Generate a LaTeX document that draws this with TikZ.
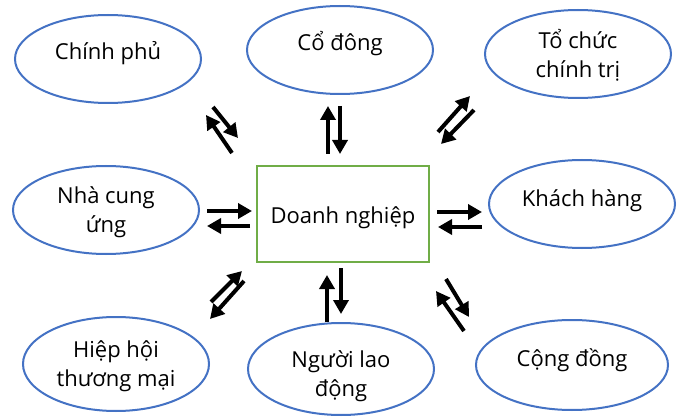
\documentclass[tikz,border=0pt]{standalone}
\usepackage{fontspec}
\setmainfont{Open Sans}
\usetikzlibrary{arrows.meta,shapes.geometric}
\definecolor{partyblue}{HTML}{4472C4}
\definecolor{firmgreen}{HTML}{70AD47}
\begin{document}
\begin{tikzpicture}[x=1pt,y=-1pt,
  party/.style={ellipse, draw=partyblue, line width=2pt, inner sep=0pt, minimum width=186pt, minimum height=88pt},
  firm/.style={rectangle, draw=firmgreen, line width=2pt, inner sep=0pt, minimum width=172pt, minimum height=96pt},
  lbl/.style={align=center, font=\fontsize{22}{29}\selectfont, inner sep=0pt},
  flow/.style={line width=4pt, -{Triangle[length=14pt,width=15pt]}}]
\useasboundingbox (0,0) rectangle (683,417);

% stakeholders around the firm
\node[party] (gov) at (108,59) {};
\node[lbl] (govt) at (108,53) {Chính phủ};
\node[party] (share) at (340,50) {};
\node[lbl] (sharet) at (340,44) {Cổ đông};
\node[party] (pol) at (578,54) {};
\node[lbl] (polt) at (578,55) {Tổ chức\\chính trị};
\node[party] (sup) at (106,210) {};
\node[lbl] (supt) at (106,212) {Nhà cung\\ứng};
\node[party] (cust) at (582,204) {};
\node[lbl] (custt) at (582,201) {Khách hàng};
\node[party, minimum height=94pt] (assoc) at (116,364) {};
\node[lbl] (assoct) at (116,366) {Hiệp hội\\thương mại};
\node[party, minimum height=92pt] (lab) at (341,369) {};
\node[lbl] (labt) at (341,376) {Người lao\\động};
\node[party, minimum width=192pt, minimum height=90pt] (comm) at (572,365) {};
\node[lbl] (commt) at (572,360) {Cộng đồng};

% the firm
\node[firm] (firm) at (343,214) {};
\node[lbl] (firmt) at (343,218) {Doanh nghiệp};

% two-way flows
\coordinate (a1) at (213,107); \coordinate (a2) at (238,138);
\coordinate (a3) at (232,153); \coordinate (a4) at (206,115);
\draw[flow] (a1) -- (a2);
\draw[flow] (a3) -- (a4);

\coordinate (b1) at (328,154); \coordinate (b2) at (328,106);
\coordinate (b3) at (340,106); \coordinate (b4) at (340,154);
\draw[flow] (b1) -- (b2);
\draw[flow] (b3) -- (b4);

\coordinate (c1) at (438,132); \coordinate (c2) at (470,96);
\coordinate (c3) at (474,110); \coordinate (c4) at (441,144);
\draw[flow] (c1) -- (c2);
\draw[flow] (c3) -- (c4);

\coordinate (d1) at (207,211); \coordinate (d2) at (252,211);
\coordinate (d3) at (250,226); \coordinate (d4) at (207,226);
\draw[flow] (d1) -- (d2);
\draw[flow] (d3) -- (d4);

\coordinate (e1) at (437,212); \coordinate (e2) at (482,212);
\coordinate (e3) at (482,227); \coordinate (e4) at (438,227);
\draw[flow] (e1) -- (e2);
\draw[flow] (e3) -- (e4);

\coordinate (f1) at (211,302); \coordinate (f2) at (242,271);
\coordinate (f3) at (244,281); \coordinate (f4) at (210,319);
\draw[flow] (f1) -- (f2);
\draw[flow] (f3) -- (f4);

\coordinate (g1) at (327,322); \coordinate (g2) at (327,275);
\coordinate (g3) at (341,268); \coordinate (g4) at (341,314);
\draw[flow] (g1) -- (g2);
\draw[flow] (g3) -- (g4);

\coordinate (h1) at (446,279); \coordinate (h2) at (469,317);
\coordinate (h3) at (464,331); \coordinate (h4) at (436,291);
\draw[flow] (h1) -- (h2);
\draw[flow] (h3) -- (h4);
\end{tikzpicture}
\end{document}
